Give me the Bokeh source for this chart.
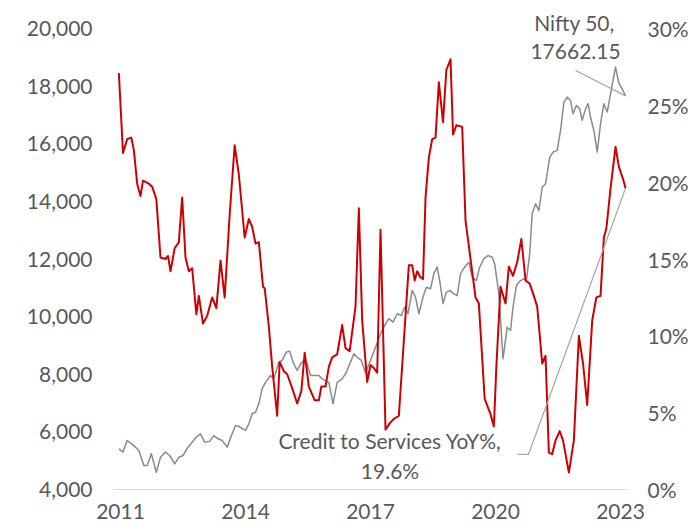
from bokeh.plotting import figure
from bokeh.models import (Range1d, LinearAxis, FixedTicker, NumeralTickFormatter,
                          PrintfTickFormatter, Label)
from bokeh.embed import file_html
from bokeh.resources import INLINE

# ---------------- data ----------------
nifty_t = [2010.96, 2011.06, 2011.16, 2011.26, 2011.36, 2011.44, 2011.56, 2011.64, 2011.74, 2011.86,
           2011.96, 2012.08, 2012.18, 2012.30, 2012.40, 2012.50, 2012.62, 2012.72, 2012.82, 2012.92,
           2013.02, 2013.14, 2013.24, 2013.34, 2013.44, 2013.56, 2013.66, 2013.76, 2013.88, 2014.00,
           2014.08, 2014.16, 2014.24, 2014.32, 2014.40, 2014.48, 2014.60, 2014.68, 2014.80, 2014.88,
           2014.98, 2015.06, 2015.14, 2015.24, 2015.32, 2015.40, 2015.48, 2015.56, 2015.66, 2015.76,
           2015.84, 2015.92, 2016.00, 2016.10, 2016.20, 2016.32, 2016.42, 2016.52, 2016.60, 2016.68,
           2016.78, 2016.88, 2017.00, 2017.12, 2017.24, 2017.36, 2017.44, 2017.54, 2017.64, 2017.74,
           2017.82, 2017.90, 2018.00, 2018.08, 2018.16, 2018.26, 2018.34, 2018.44, 2018.52, 2018.60,
           2018.66, 2018.74, 2018.82, 2018.90, 2019.00, 2019.08, 2019.16, 2019.26, 2019.36, 2019.44,
           2019.54, 2019.62, 2019.72, 2019.82, 2019.92, 2019.98, 2020.08, 2020.18, 2020.28, 2020.36,
           2020.42, 2020.50, 2020.60, 2020.68, 2020.74, 2020.82, 2020.88, 2020.96, 2021.04, 2021.12,
           2021.20, 2021.30, 2021.38, 2021.48, 2021.56, 2021.64, 2021.72, 2021.80, 2021.86, 2021.94,
           2022.02, 2022.08, 2022.16, 2022.22, 2022.28, 2022.36, 2022.44, 2022.52, 2022.60, 2022.68,
           2022.76, 2022.82, 2022.88, 2022.96, 2023.04, 2023.12]
nifty = [5410, 5300, 5700, 5590, 5470, 5350, 4830, 4830, 5240, 4600,
         5120, 5300, 5180, 4890, 5120, 5180, 5470, 5640, 5820, 5930,
         5640, 5670, 5870, 5760, 5700, 5470, 5870, 6220, 6160, 6050,
         6280, 6630, 6680, 6980, 7500, 7720, 7960, 7840, 8420, 8480,
         8770, 8800, 8420, 8130, 8360, 8480, 8360, 7960, 7960, 7960,
         7840, 7780, 7720, 6980, 7720, 7840, 8070, 8420, 8710, 8590,
         8480, 8050, 8480, 8940, 9400, 9750, 9930, 9810, 10100, 10040,
         10330, 10100, 10910, 10680, 10100, 10680, 11020, 10970, 11490, 11720,
         11250, 10450, 10850, 10910, 10790, 10730, 11490, 11720, 11890, 11370,
         11250, 11720, 12010, 12120, 12060, 11830, 10790, 8540, 9630, 9520,
         10330, 11080, 11250, 11310, 11250, 12180, 13570, 13920, 13680, 14490,
         14610, 15530, 15710, 15770, 16460, 17440, 17620, 17500, 17040, 17330,
         17210, 16810, 17210, 17390, 16920, 16460, 15710, 16690, 17390, 17100,
         17730, 18200, 18660, 18100, 17900, 17662.15]

credit_t = [2010.96, 2011.06, 2011.16, 2011.26, 2011.32, 2011.40, 2011.48, 2011.54, 2011.68, 2011.76,
            2011.86, 2011.96, 2012.08, 2012.14, 2012.20, 2012.30, 2012.40, 2012.48, 2012.56, 2012.64,
            2012.72, 2012.82, 2012.88, 2012.98, 2013.08, 2013.20, 2013.30, 2013.40, 2013.50, 2013.62,
            2013.74, 2013.84, 2013.98, 2014.08, 2014.16, 2014.24, 2014.32, 2014.42, 2014.46, 2014.56,
            2014.64, 2014.76, 2014.82, 2014.92, 2015.00, 2015.12, 2015.24, 2015.34, 2015.42, 2015.52,
            2015.66, 2015.76, 2015.82, 2015.92, 2016.00, 2016.08, 2016.20, 2016.32, 2016.40, 2016.50,
            2016.64, 2016.72, 2016.80, 2016.92, 2017.00, 2017.08, 2017.16, 2017.24, 2017.36, 2017.46,
            2017.56, 2017.68, 2017.80, 2017.92, 2018.00, 2018.06, 2018.12, 2018.20, 2018.26, 2018.32,
            2018.40, 2018.48, 2018.56, 2018.64, 2018.74, 2018.82, 2018.92, 2018.98, 2019.06, 2019.20,
            2019.28, 2019.52, 2019.60, 2019.74, 2019.88, 2019.96, 2020.02, 2020.12, 2020.24, 2020.32,
            2020.42, 2020.52, 2020.62, 2020.72, 2020.82, 2020.92, 2021.00, 2021.12, 2021.20, 2021.28,
            2021.36, 2021.44, 2021.54, 2021.62, 2021.76, 2021.88, 2022.00, 2022.10, 2022.20, 2022.32,
            2022.42, 2022.52, 2022.60, 2022.66, 2022.76, 2022.88, 2022.96, 2023.06, 2023.12]
credit_yoy = [27.1, 21.9, 22.8, 22.9, 22.1, 19.9, 19.1, 20.1, 19.9, 19.7,
              18.9, 15.1, 15.0, 15.2, 14.2, 15.7, 16.1, 19.0, 15.1, 14.2,
              14.4, 11.4, 12.6, 10.8, 11.3, 12.5, 11.8, 14.9, 12.5, 17.9,
              22.4, 20.5, 16.4, 17.6, 17.1, 16.0, 16.1, 13.2, 13.1, 10.6,
              8.0, 4.8, 8.3, 7.7, 7.5, 6.6, 5.6, 6.4, 8.9, 6.7,
              5.8, 5.8, 6.7, 6.7, 8.0, 8.6, 8.8, 10.7, 9.2, 9.0,
              11.9, 18.3, 11.0, 7.0, 8.1, 7.9, 7.6, 16.9, 3.9, 4.3,
              4.6, 4.8, 9.7, 14.6, 14.6, 13.6, 14.2, 13.8, 13.7, 19.0,
              21.6, 22.8, 22.9, 26.5, 23.9, 27.3, 28.0, 23.1, 23.7, 23.6,
              17.5, 12.5, 12.1, 5.9, 4.9, 4.1, 8.0, 13.2, 12.1, 14.5,
              13.9, 14.8, 16.3, 13.6, 13.4, 12.6, 11.9, 8.2, 8.7, 2.4,
              2.3, 3.2, 3.8, 3.2, 1.1, 3.2, 10.0, 8.2, 5.5, 11.0,
              12.5, 12.6, 16.4, 17.0, 19.6, 22.3, 21.0, 20.2, 19.6]

year_ticks = [2011, 2014, 2017, 2020, 2023]
nifty_ticks = [4000, 6000, 8000, 10000, 12000, 14000, 16000, 18000, 20000]
pct_ticks = [0, 5, 10, 15, 20, 25, 30]
nifty_name = "Nifty 50,"
credit_name = "Credit to Services YoY%,"

# ---------------- styling ----------------
FONT = "Lato"
TXT = "#595959"
FS = "21px"

# frame extends a little above the 20,000 / 30% level so the top data label is not clipped
p = figure(frame_width=514, frame_height=484,
           min_border_left=113, min_border_right=65, min_border_top=5, min_border_bottom=38,
           x_range=Range1d(2010.832, 2023.167), y_range=Range1d(4000, 20798.3),
           output_backend="svg", toolbar_location=None)
p.outline_line_color = None
p.grid.visible = False
p.background_fill_color = "white"
p.border_fill_color = "white"

def style_axis(ax, standoff):
    ax.major_tick_line_color = None
    ax.minor_tick_line_color = None
    ax.major_tick_out = 0
    ax.major_tick_in = 0
    ax.minor_tick_out = 0
    ax.minor_tick_in = 0
    ax.major_label_standoff = standoff
    ax.major_label_text_font = FONT
    ax.major_label_text_font_size = FS
    ax.major_label_text_color = TXT

# bottom axis
xa = p.xaxis[0]
xa.ticker = FixedTicker(ticks=year_ticks)
xa.major_label_overrides = {t: str(t) for t in year_ticks}
xa.axis_line_color = "#d9d9d9"
xa.axis_line_width = 1
style_axis(xa, 14)

# left axis
ya = p.yaxis[0]
ya.ticker = FixedTicker(ticks=nifty_ticks)
ya.formatter = NumeralTickFormatter(format="0,0")
ya.axis_line_color = None
style_axis(ya, 21)

# right axis
p.extra_y_ranges = {"pct": Range1d(0, 31.497)}
ra = LinearAxis(y_range_name="pct")
ra.ticker = FixedTicker(ticks=pct_ticks)
ra.formatter = PrintfTickFormatter(format="%d%%")
ra.axis_line_color = None
style_axis(ra, 20)
p.add_layout(ra, "right")

# series
p.line(nifty_t, nifty, line_color="#8a8a8a", line_width=1.5, line_join="round")
p.line(credit_t, credit_yoy, line_color="#CC0000", line_width=2.0, line_join="round",
       y_range_name="pct")

# leader lines
p.line([2021.92, nifty_t[-1]], [18543, nifty[-1]], line_color="#a6a6a6", line_width=1.2)
p.line([2020.53, 2020.79, credit_t[-1]], [2.28, 2.28, credit_yoy[-1]],
       line_color="#a6a6a6", line_width=1.2, y_range_name="pct")

# data labels
def lab(x, y, text):
    p.add_layout(Label(x=x, y=y, text=text, text_font=FONT, text_font_size=FS,
                       text_color=TXT, text_align="center", text_baseline="middle"))

lab(2021.895, 20210, nifty_name)
lab(2021.92, 19203, f"{nifty[-1]:.2f}")
lab(2017.467, 5701, credit_name)
lab(2017.467, 4659, f"{credit_yoy[-1]}%")

open("out.html", "w").write(file_html(p, INLINE))
